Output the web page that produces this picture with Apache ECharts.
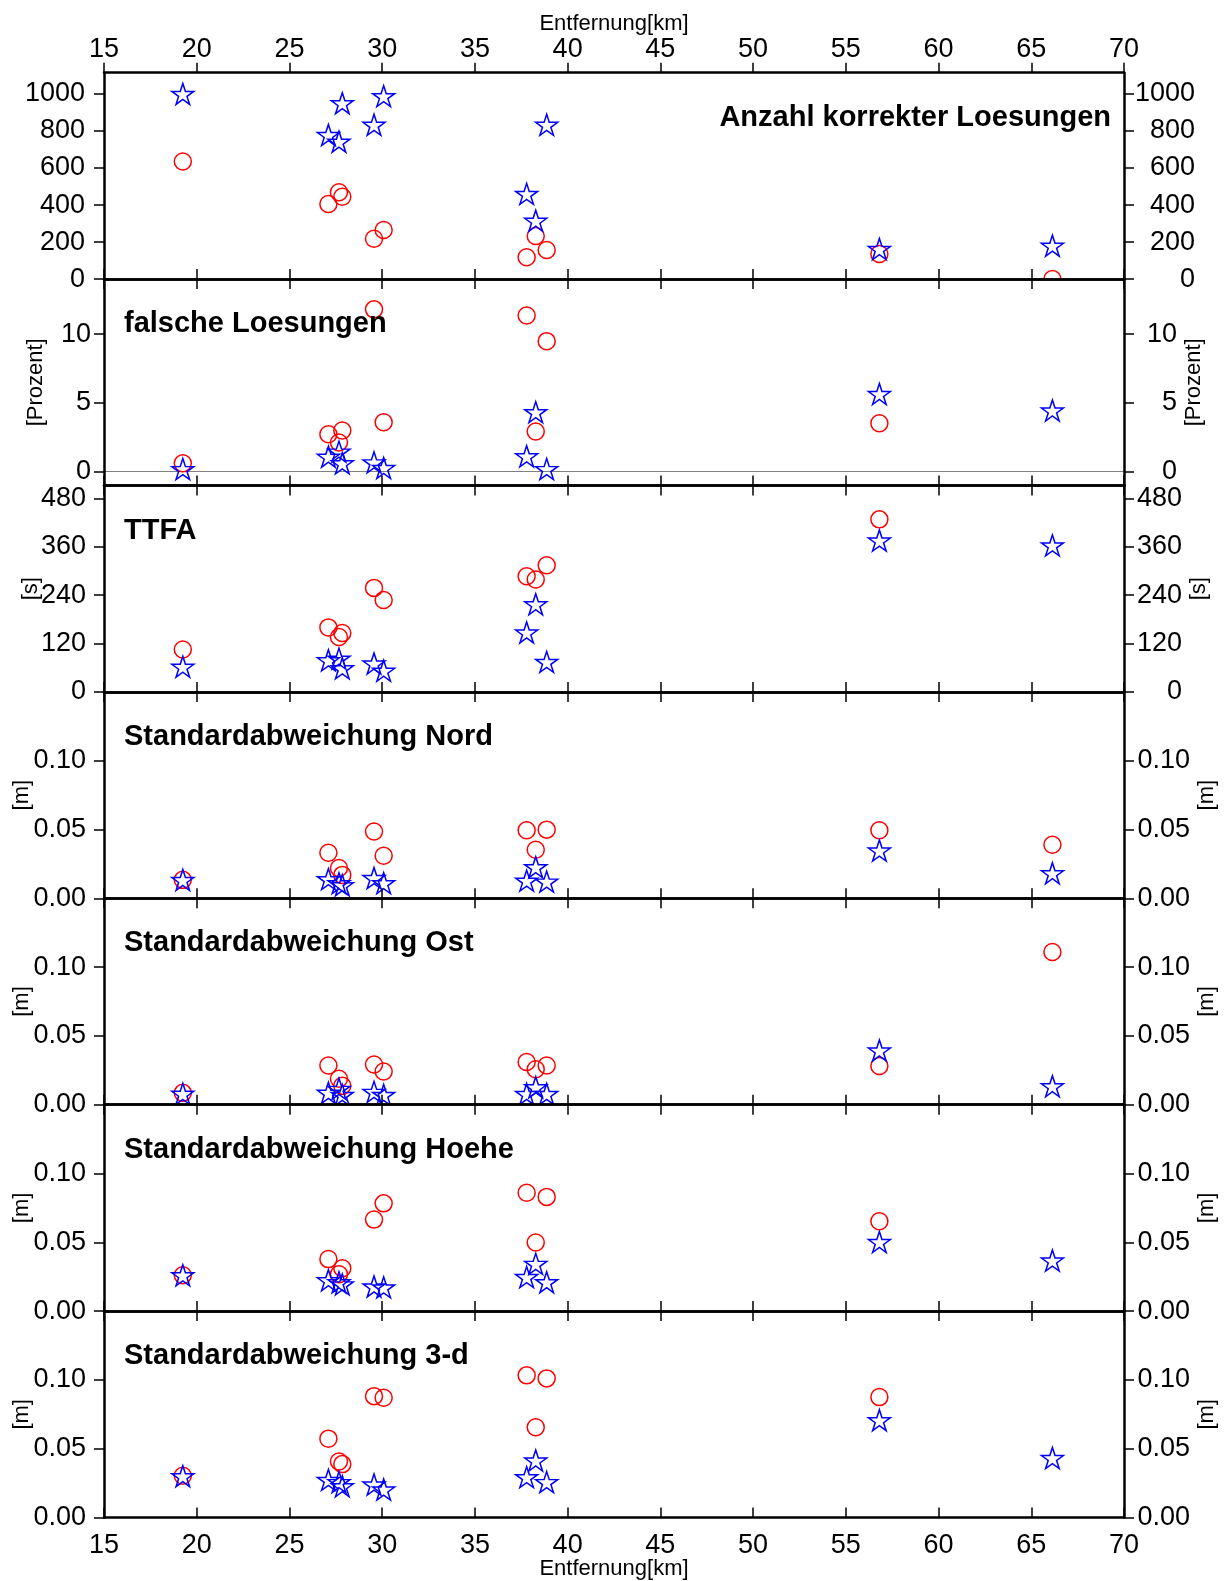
<!DOCTYPE html>
<html>
<head>
<meta charset="utf-8">
<script src="https://cdn.jsdelivr.net/npm/echarts@6/dist/echarts.min.js"></script>
<style>
  html, body { margin: 0; padding: 0; background: #fff; }
  #chart { width: 1224px; height: 1581px; }
</style>
</head>
<body>
<div id="chart"></div>
<script>
// Entfernung der Stationen [km]
const distance = [19.25, 27.1, 27.67, 27.85, 29.56, 30.08, 37.79, 38.28, 38.87, 56.81, 66.14];

// Anzahl korrekter Loesungen
const correctCircle = [635, 406, 469, 445, 218, 265, 118, 233, 157, 136, 0];
const correctStar   = [995, 773, 737, 945, 828, 983, 455, 310, 828, 157, 175];

// falsche Loesungen [Prozent]
const wrongCircle = [0.61, 2.73, 2.12, 3.0, 11.8, 3.6, 11.36, 2.92, 9.49, 3.52, null];
const wrongStar   = [0.12, 1.02, 1.39, 0.54, 0.61, 0.2, 1.05, 4.26, 0.12, 5.58, 4.38];

// TTFA [s]
const ttfaCircle = [105, 160, 136, 146, 258, 228, 287, 279, 314, 428, null];
const ttfaStar   = [60, 76, 80, 56, 68, 50, 145, 215, 72, 373, 361];

// Standardabweichung Nord [m]
const nordCircle = [0.0134, 0.0331, 0.022, 0.017, 0.0485, 0.0309, 0.0494, 0.0353, 0.0499, 0.0494, 0.0389];
const nordStar   = [0.0126, 0.0132, 0.0103, 0.0088, 0.014, 0.0103, 0.0121, 0.0219, 0.0114, 0.034, 0.0175];

// Standardabweichung Ost [m]
const ostCircle = [0.0086, 0.0285, 0.0189, 0.0137, 0.0292, 0.0241, 0.031, 0.0258, 0.0285, 0.0282, 0.111];
const ostStar   = [0.0072, 0.0079, 0.0108, 0.0064, 0.0086, 0.0064, 0.0071, 0.012, 0.0071, 0.0387, 0.0127];

// Standardabweichung Hoehe [m]
const hoeheCircle = [0.026, 0.0378, 0.0268, 0.0312, 0.0665, 0.0783, 0.086, 0.0499, 0.083, 0.0653, null];
const hoeheStar   = [0.0253, 0.0217, 0.0202, 0.0187, 0.0172, 0.0165, 0.024, 0.0336, 0.0203, 0.0495, 0.036];

// Standardabweichung 3-d [m]
const dreiDCircle = [0.0303, 0.0573, 0.0407, 0.0388, 0.0882, 0.087, 0.1033, 0.0656, 0.1011, 0.0875, null];
const dreiDStar   = [0.0293, 0.0266, 0.025, 0.022, 0.0232, 0.0196, 0.0286, 0.0407, 0.025, 0.07, 0.0425];

// Achsenbeschriftung
const correctTicks = [0, 200, 400, 600, 800, 1000];
const wrongTicks = [0, 5, 10];
const ttfaTicks = [0, 120, 240, 360, 480];
const meterTicks = [0, 0.05, 0.10];
const panelTitles = ['Anzahl korrekter Loesungen', 'falsche Loesungen', 'TTFA',
  'Standardabweichung Nord', 'Standardabweichung Ost', 'Standardabweichung Hoehe', 'Standardabweichung 3-d'];
const xLabel = 'Entfernung[km]';

// ---- layout ----
const FONT = '"Liberation Sans", Arial, Helvetica, sans-serif';
const plotLeft = 104, plotRight = 100;
const top0 = 72.7, panelH = 206.4;

const panels = [
  { circle: correctCircle, star: correctStar, min: 0, max: 1115, ticks: correctTicks, unit: '', digits: 0, lm: 19, re: 71, titleRight: true },
  { circle: wrongCircle, star: wrongStar, min: -1, max: 14, ticks: wrongTicks, unit: '[Prozent]', digits: 0, lm: 13, re: 53, gl: 57, gr: 59, zeroLine: true },
  { circle: ttfaCircle, star: ttfaStar, min: 0, max: 512, ticks: ttfaTicks, unit: '[s]', digits: 0, lm: 18, re: 58, gl: 62, gr: 64 },
  { circle: nordCircle, star: nordStar, min: 0, max: 0.15, ticks: meterTicks, unit: '[m]', digits: 2, lm: 18, re: 66, gl: 71, gr: 72 },
  { circle: ostCircle, star: ostStar, min: 0, max: 0.15, ticks: meterTicks, unit: '[m]', digits: 2, lm: 18, re: 66, gl: 71, gr: 72 },
  { circle: hoeheCircle, star: hoeheStar, min: 0, max: 0.15, ticks: meterTicks, unit: '[m]', digits: 2, lm: 18, re: 66, gl: 71, gr: 72 },
  { circle: dreiDCircle, star: dreiDStar, min: 0, max: 0.15, ticks: meterTicks, unit: '[m]', digits: 2, lm: 18, re: 66, gl: 71, gr: 72 }
];

const STAR = 'path://M0 -100 L22.45 -30.9 L95.11 -30.9 L36.33 11.8 L58.78 80.9 L0 38.2 L-58.78 80.9 L-36.33 11.8 L-95.11 -30.9 L-22.45 -30.9 Z';

const frameLine = { show: true, onZero: false, lineStyle: { color: '#000', width: 2.5 } };
const tickStyle = { color: '#000', width: 1.5 };
const LABEL_SIZE = 27;

const grids = [], xAxes = [], yAxes = [], series = [], titles = [];
const n = panels.length;

panels.forEach((p, i) => {
  const top = top0 + i * panelH;
  // each panel paints a white background above the previous panel's marks
  grids.push({
    left: plotLeft, right: plotRight, top: top, height: panelH,
    outerBoundsMode: 'none', containLabel: false,
    show: true, backgroundColor: '#fff', borderWidth: 0, z: 10 * i + 1
  });

  // bottom x axis
  xAxes.push({
    type: 'value', gridIndex: i, position: 'bottom', min: 15, max: 70, interval: 5, z: 200,
    axisLine: frameLine,
    axisTick: { show: true, inside: true, length: 10, lineStyle: tickStyle },
    axisLabel: { show: i === n - 1, margin: 15, color: '#000', fontSize: LABEL_SIZE, fontFamily: FONT },
    splitLine: { show: false },
    name: i === n - 1 ? xLabel : '', nameLocation: 'middle', nameGap: 40, nameMoveOverlap: false,
    nameTextStyle: { color: '#000', fontSize: 22, fontFamily: FONT }
  });
  // top x axis
  xAxes.push({
    type: 'value', gridIndex: i, position: 'top', min: 15, max: 70, interval: 5, z: 200,
    axisLine: frameLine,
    axisTick: { show: true, inside: i !== 0, length: 10, lineStyle: tickStyle },
    axisLabel: { show: i === 0, margin: 10, color: '#000', fontSize: LABEL_SIZE, fontFamily: FONT },
    splitLine: { show: false },
    name: i === 0 ? xLabel : '', nameLocation: 'middle', nameGap: 38, nameMoveOverlap: false,
    nameTextStyle: { color: '#000', fontSize: 22, fontFamily: FONT }
  });

  const fmt = v => p.digits ? Number(v).toFixed(p.digits) : String(Math.round(v));
  ['left', 'right'].forEach(side => {
    yAxes.push({
      type: 'value', gridIndex: i, position: side, min: p.min, max: p.max, z: 200,
      axisLine: frameLine,
      axisTick: { show: true, inside: false, length: 10, lineStyle: tickStyle, customValues: p.ticks },
      axisLabel: {
        show: true, customValues: p.ticks, formatter: fmt,
        margin: side === 'left' ? p.lm : p.re, align: 'right', padding: [6, 0, 0, 0],
        color: '#000', fontSize: LABEL_SIZE, fontFamily: FONT
      },
      splitLine: { show: false },
      name: p.unit, nameLocation: 'middle', nameRotate: 90, nameMoveOverlap: false,
      nameGap: side === 'left' ? p.gl : p.gr,
      nameTextStyle: { color: '#000', fontSize: 22, fontFamily: FONT }
    });
  });

  const circleData = distance.map((d, k) => [d, p.circle[k]]).filter(q => q[1] !== null);
  const starData = distance.map((d, k) => [d, p.star[k]]).filter(q => q[1] !== null);

  const circleSeries = {
    type: 'scatter', xAxisIndex: 2 * i, yAxisIndex: 2 * i, z: 10 * i + 5,
    data: circleData, symbol: 'circle', symbolSize: 17, silent: true,
    itemStyle: { color: 'rgba(0,0,0,0)', borderColor: '#ff0000', borderWidth: 1.5, opacity: 1 }
  };
  if (p.zeroLine) {
    circleSeries.markLine = {
      silent: true, z: 10 * i + 4, symbol: ['none', 'none'], label: { show: false },
      lineStyle: { color: '#808080', width: 1.2, type: 'solid' },
      data: [{ yAxis: 0 }]
    };
  }
  series.push(circleSeries);
  series.push({
    type: 'scatter', xAxisIndex: 2 * i, yAxisIndex: 2 * i, z: 10 * i + 6,
    data: starData, symbol: STAR, symbolSize: [22, 21], symbolOffset: [0, -1], silent: true,
    itemStyle: { color: 'rgba(0,0,0,0)', borderColor: '#0000ff', borderWidth: 1.5, opacity: 1 }
  });

  const t = {
    text: panelTitles[i], top: top + 30.5, padding: 0, z: 300,
    textStyle: { color: '#000', fontSize: 29, fontWeight: 'bold', fontFamily: FONT }
  };
  if (p.titleRight) t.right = 1224 - 1111; else t.left = 124;
  titles.push(t);
});

const chart = echarts.init(document.getElementById('chart'), null, { renderer: 'canvas' });
chart.setOption({
  animation: false,
  backgroundColor: '#fff',
  title: titles,
  grid: grids,
  xAxis: xAxes,
  yAxis: yAxes,
  series: series
});
</script>
</body>
</html>
